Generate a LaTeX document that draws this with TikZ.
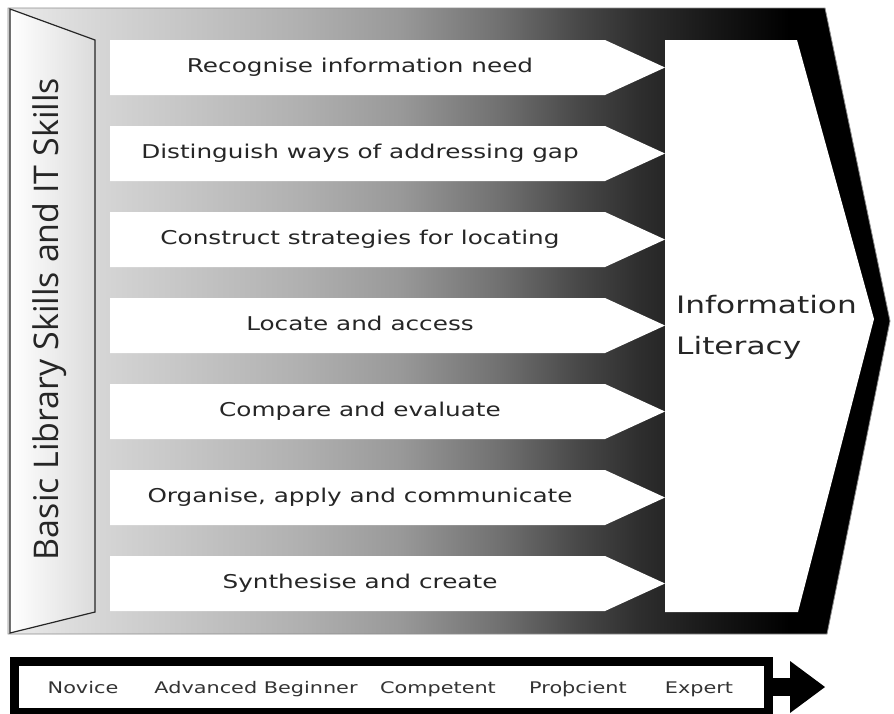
\documentclass[tikz,border=0pt]{standalone}
\usepackage{fontspec}
\newfontfamily\skillfont[FakeStretch=1.3]{DejaVu Sans}
\newfontfamily\basefont{Open Sans}
% grey to black, left to right (path box = 25bp..75bp)
\pgfdeclarehorizontalshading{darkening}{100bp}{color(0bp)=(black!8); color(25bp)=(black!8);
  color(30bp)=(black!16); color(41.6bp)=(black!31); color(47.2bp)=(black!40);
  color(52.9bp)=(black!56); color(57.4bp)=(black!72); color(60.8bp)=(black!82);
  color(65.4bp)=(black!92); color(69.3bp)=(black); color(100bp)=(black)}
\begin{document}
\begin{tikzpicture}[x=1pt,y=-1pt,
	skilltext/.style={font=\skillfont\fontsize{19}{23}\selectfont, text=black!85, anchor=base},
	leveltext/.style={font=\skillfont\fontsize{16}{19}\selectfont, text=black!80, anchor=base}]
	\useasboundingbox (0,0) rectangle (894,713);

	% the big arrow behind everything
		\shade[shading=darkening, draw=black!45, line width=0.8pt] (8,8) -- (825,8) -- (890,321) -- (827,634) -- (8,634) -- cycle;

	% basic skills panel on the left
		\shade[left color=white, right color=black!14, draw=black!85, line width=1.2pt] (10,9) -- (95,40) -- (95,612) -- (10,633) -- cycle;
		\node (base) [rotate=90, anchor=base, font=\basefont\fontsize{34}{40}\selectfont, text=black!85] at (58,319) {Basic Library Skills and IT Skills};

	% the seven skills
		\foreach \txt [count=\i] in {Recognise information need, Distinguish ways of addressing gap, Construct strategies for locating, Locate and access, Compare and evaluate, {Organise, apply and communicate}, Synthesise and create}
		{
			\pgfmathsetmacro\rowtop{40+86*(\i-1)}
			\fill[white] (110,\rowtop) -- (605,\rowtop) -- (665,\rowtop+27.5) -- (605,\rowtop+55) -- (110,\rowtop+55) -- cycle;
			\node[skilltext] (skill\i) at (360,\rowtop+32) {\txt};
		}

	% information literacy
		\fill[white] (665,40) -- (797,40) -- (874,319) -- (798,612) -- (665,612) -- cycle;
		\node (lit) [anchor=north west, inner sep=0pt, align=left, text=black!85, font=\skillfont\fontsize{24}{40.6}\selectfont] at (676,295) {Information\\Literacy};

	% levels bar
		\draw[line width=9pt] (14.5,661.5) rectangle (768.5,712.5);
		\fill (772,678) rectangle (791,696);
		\fill (790,661) -- (825,687) -- (790,713) -- cycle;
		\node[leveltext] (novice) at (83,693) {Novice};
		\node[leveltext] (advanced) at (256,693) {Advanced Beginner};
		\node[leveltext] (competent) at (438,693) {Competent};
		\node[leveltext] (proficient) at (578,693) {Proþcient};
		\node[leveltext] (expert) at (699,693) {Expert};
\end{tikzpicture}
\end{document}
